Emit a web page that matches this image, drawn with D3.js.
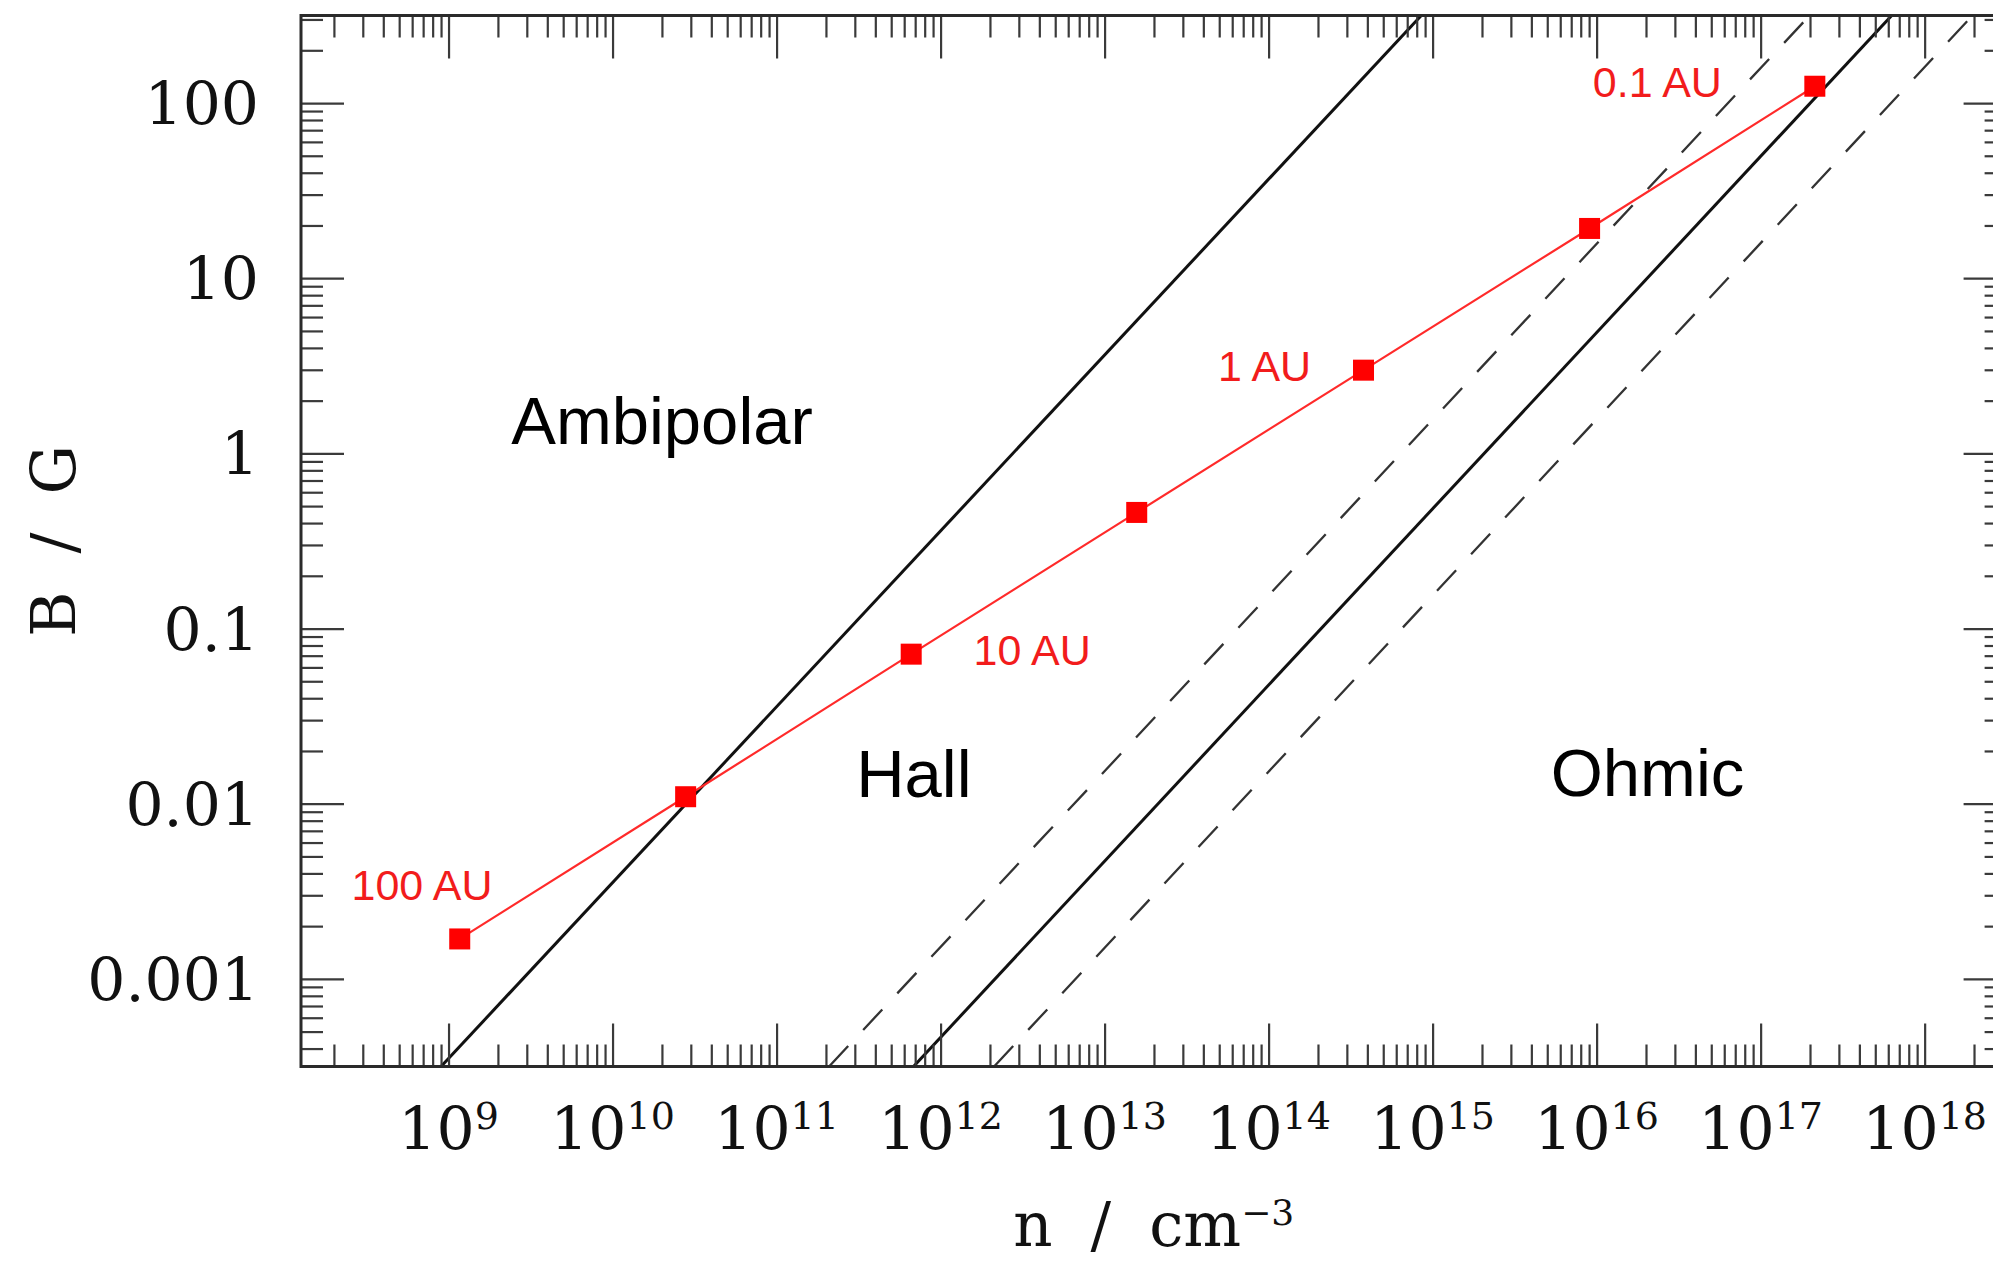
<!DOCTYPE html>
<html>
<head>
<meta charset="utf-8">
<script src="https://cdn.jsdelivr.net/npm/d3@7"></script>
<style>
    body { margin: 0; background: #fff; }
    svg { display: block; }
</style>
</head>
<body>
<svg id="canvas"></svg>
<script>
// disk midplane track, 100 AU -> 0.1 AU (n in cm^-3, B in G)
let trackDensity = [1.17e9, 2.79e10, 6.62e11, 1.57e13, 3.79e14, 9.06e15, 2.14e17]
let trackField = [0.00169, 0.01096, 0.0714, 0.460, 2.985, 19.23, 124.7]

// track labels and where their text starts (n, B at baseline)
let trackLabels = ["100 AU", "10 AU", "1 AU", "0.1 AU"]
let trackLabelN = [2.56e8, 1.59e12, 4.91e13, 9.48e15]
let trackLabelB = [2.82e-3, 0.0619, 2.59, 108.4]

// regime boundaries, read where they cross the bottom and top of the frame
let ambiHallN = [9.0e8, 8.53e14]
let hallOhmN = [6.84e11, 6.30e17]
let hallOhmLowN = [2.09e11, 1.99e17]
let hallOhmHighN = [2.12e12, 1.96e18]
let boundaryB = [3.16e-4, 316]

// regime names and text start (n, B at baseline)
let regionNames = ["Ambipolar", "Hall", "Ohmic"]
let regionN = [2.41e9, 3.06e11, 5.25e15]
let regionB = [1.13, 0.01096, 0.011]

// axes
let xDomain = [1.26e8, 3.16e18]
let yDomain = [3.16e-4, 316]
let xTickExps = [9, 10, 11, 12, 13, 14, 15, 16, 17, 18]
let yTickValues = [0.001, 0.01, 0.1, 1, 10, 100]
let yTickLabels = ["0.001", "0.01", "0.1", "1", "10", "100"]

let width = 1993
let height = 1262
let plotLeft = 301
let plotRight = 2006.6
let plotTop = 15.5
let plotBottom = 1066.5

let serif = "'DejaVu Serif', serif"
let sans = "'Liberation Sans', Arial, Helvetica, sans-serif"

let canvas = d3.select("#canvas")
                .attr("width", width)
                .attr("height", height)

canvas.append("rect")
        .attr("width", width)
        .attr("height", height)
        .attr("fill", "#fff")

let xScale = d3.scaleLog()
                .domain(xDomain)
                .range([plotLeft, plotRight])

let yScale = d3.scaleLog()
                .domain(yDomain)
                .range([plotBottom, plotTop])

let minorTicks = (domain) => {
    let out = []
    let lo = Math.floor(Math.log10(domain[0]))
    let hi = Math.ceil(Math.log10(domain[1]))
    for (let e = lo; e <= hi; e++) {
        for (let k = 2; k <= 9; k++) {
            let v = k * Math.pow(10, e)
            if (v >= domain[0] && v <= domain[1]) out.push(v)
        }
    }
    return out
}

let xMajor = xTickExps.map((e) => Math.pow(10, e))
let xMinor = minorTicks(xDomain)
let yMinor = minorTicks(yDomain)

let drawAxes = () => {
    let sides = [
        [d3.axisBottom(xScale), "translate(0," + plotBottom + ")", xMajor, xMinor],
        [d3.axisTop(xScale), "translate(0," + plotTop + ")", xMajor, xMinor],
        [d3.axisLeft(yScale), "translate(" + plotLeft + ",0)", yTickValues, yMinor],
        [d3.axisRight(yScale), "translate(" + plotRight + ",0)", yTickValues, yMinor]
    ]

    sides.forEach((s) => {
        let major = s[0].tickValues(s[2]).tickSize(-43).tickSizeOuter(0).tickFormat("")
        let g = canvas.append("g").attr("transform", s[1]).call(major)
        g.select(".domain").remove()

        let minor = s[0].tickValues(s[3]).tickSize(-22).tickSizeOuter(0).tickFormat("")
        let g2 = canvas.append("g").attr("transform", s[1]).call(minor)
        g2.select(".domain").remove()
    })

    canvas.selectAll(".tick line")
            .attr("stroke", "#3a3a3a")
            .attr("stroke-width", 2.2)

    canvas.append("rect")
            .attr("x", plotLeft)
            .attr("y", plotTop)
            .attr("width", plotRight - plotLeft)
            .attr("height", plotBottom - plotTop)
            .attr("fill", "none")
            .attr("stroke", "#2a2a2a")
            .attr("stroke-width", 3)

    // x tick labels as 10 with superscript exponent
    let xl = canvas.append("g")
    xTickExps.forEach((e) => {
        let t = xl.append("text")
                    .attr("x", xScale(Math.pow(10, e)))
                    .attr("y", 1150)
                    .attr("text-anchor", "middle")
                    .attr("font-family", serif)
                    .attr("font-size", 60)
                    .attr("fill", "#111")
        t.append("tspan").text("10")
        t.append("tspan")
            .attr("dy", -21)
            .attr("font-size", 38)
            .text(e)
    })

    canvas.append("g")
            .selectAll("text")
            .data(yTickValues)
            .enter()
            .append("text")
            .attr("x", 259)
            .attr("y", (d) => yScale(d) + 22)
            .attr("text-anchor", "end")
            .attr("font-family", serif)
            .attr("font-size", 60)
            .attr("fill", "#111")
            .text((d, i) => yTickLabels[i])

    // axis titles
    let xt = canvas.append("text")
                .attr("x", (plotLeft + plotRight) / 2)
                .attr("y", 1246)
                .attr("text-anchor", "middle")
                .attr("font-family", serif)
                .attr("font-size", 61)
                .attr("fill", "#111")
    xt.append("tspan").text("n")
    xt.append("tspan").attr("dx", 38).text("/")
    xt.append("tspan").attr("dx", 38).text("cm")
    xt.append("tspan").attr("dy", -21).attr("font-size", 36).text("\u22123")

    let yt = canvas.append("text")
                .attr("transform", "translate(75," + ((plotTop + plotBottom) / 2) + ") rotate(-90)")
                .attr("text-anchor", "middle")
                .attr("font-family", serif)
                .attr("font-size", 62)
                .attr("fill", "#111")
    yt.append("tspan").text("B")
    yt.append("tspan").attr("dx", 38).text("/")
    yt.append("tspan").attr("dx", 38).text("G")
}

let drawBoundaries = () => {
    canvas.append("clipPath")
            .attr("id", "plot-clip")
            .append("rect")
            .attr("x", plotLeft)
            .attr("y", plotTop)
            .attr("width", plotRight - plotLeft)
            .attr("height", plotBottom - plotTop)

    let line = d3.line()
                    .x((d) => xScale(d[0]))
                    .y((d) => yScale(d[1]))

    let bounds = [
        [ambiHallN, null],
        [hallOhmN, null],
        [hallOhmLowN, "28,22"],
        [hallOhmHighN, "28,22"]
    ]

    let g = canvas.append("g").attr("clip-path", "url(#plot-clip)")
    bounds.forEach((b) => {
        let pts = b[0].map((n, i) => [n, boundaryB[i]])
        g.append("path")
            .attr("d", line(pts))
            .attr("fill", "none")
            .attr("stroke", b[1] ? "#333" : "#111")
            .attr("stroke-width", b[1] ? 2.3 : 3)
            .attr("stroke-dasharray", b[1])
    })
}

let drawTrack = () => {
    let pts = trackDensity.map((n, i) => [n, trackField[i]])

    let line = d3.line()
                    .x((d) => xScale(d[0]))
                    .y((d) => yScale(d[1]))

    canvas.append("path")
            .attr("d", line(pts))
            .attr("fill", "none")
            .attr("stroke", "#ff2a2a")
            .attr("stroke-width", 2.2)

    canvas.selectAll(".marker")
            .data(pts)
            .enter()
            .append("rect")
            .attr("class", "marker")
            .attr("x", (d) => xScale(d[0]) - 10.5)
            .attr("y", (d) => yScale(d[1]) - 10.5)
            .attr("width", 21)
            .attr("height", 21)
            .attr("fill", "#ff0000")

    canvas.append("g")
            .selectAll("text")
            .data(trackLabels)
            .enter()
            .append("text")
            .attr("x", (d, i) => xScale(trackLabelN[i]))
            .attr("y", (d, i) => yScale(trackLabelB[i]))
            .attr("font-family", sans)
            .attr("font-size", 43)
            .attr("fill", "#f21c1c")
            .text((d) => d)
}

let drawRegions = () => {
    canvas.append("g")
            .selectAll("text")
            .data(regionNames)
            .enter()
            .append("text")
            .attr("x", (d, i) => xScale(regionN[i]))
            .attr("y", (d, i) => yScale(regionB[i]))
            .attr("font-family", sans)
            .attr("font-size", 67)
            .attr("fill", "#000")
            .text((d) => d)
}

drawBoundaries()
drawAxes()
drawTrack()
drawRegions()
</script>
</body>
</html>
